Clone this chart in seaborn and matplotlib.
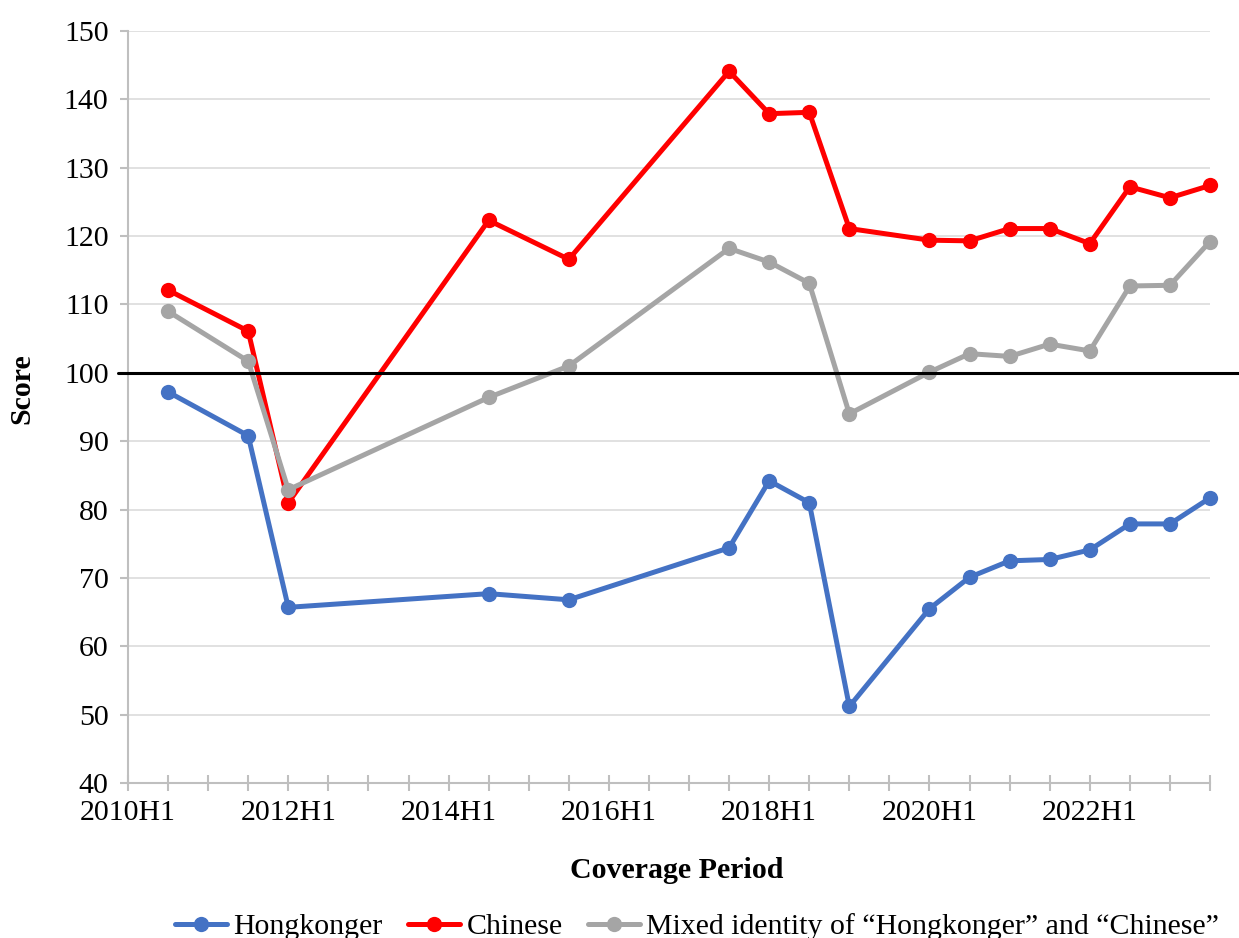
import numpy as np
import pandas as pd
import matplotlib
matplotlib.use('Agg')
import matplotlib.pyplot as plt
import seaborn as sns

# half-year periods on the x axis
periods = [f'{y}H{h}' for y in range(2010, 2024) for h in (1, 2)]
label_every = 4

obs_periods = ['2010H2', '2011H2', '2012H1', '2014H2', '2015H2', '2017H2', '2018H1',
               '2018H2', '2019H1', '2020H1', '2020H2', '2021H1', '2021H2', '2022H1',
               '2022H2', '2023H1', '2023H2']

hongkonger = [97.2, 90.8, 65.7, 67.7, 66.8, 74.4, 84.2, 81.0, 51.2, 65.5, 70.1, 72.5,
              72.7, 74.1, 77.9, 77.9, 81.7]
chinese = [112.1, 106.1, 81.0, 122.3, 116.6, 144.1, 137.9, 138.1, 121.1, 119.4, 119.3,
           121.1, 121.1, 118.9, 127.2, 125.6, 127.4]
mixed = [109.0, 101.7, 82.9, 96.4, 101.0, 118.2, 116.2, 113.1, 94.0, 100.1, 102.8,
         102.4, 104.2, 103.2, 112.7, 112.8, 119.2]

series_names = ['Hongkonger', 'Chinese',
                'Mixed identity of \u201cHongkonger\u201d and \u201cChinese\u201d']
colors = ['#4472C4', '#FF0000', '#A5A5A5']
baseline = 100

pos = [periods.index(p) for p in obs_periods]
df = pd.concat([
    pd.DataFrame({'pos': pos, 'score': vals, 'series': name})
    for name, vals in zip(series_names, [hongkonger, chinese, mixed])
])

sns.set_theme(style='white')
plt.rcParams['font.family'] = ['Liberation Serif', 'DejaVu Serif']
plt.rcParams['text.color'] = 'black'
plt.rcParams['axes.labelcolor'] = 'black'
plt.rcParams['xtick.labelcolor'] = 'black'
plt.rcParams['ytick.labelcolor'] = 'black'

fig = plt.figure(figsize=(12.39, 9.38), dpi=100)
ax = fig.add_axes([0.1033, 0.1652, 0.8733, 0.8018])

ax.yaxis.grid(True, color='#D9D9D9', linewidth=1.1, zorder=0)
ax.set_axisbelow(True)

sns.lineplot(data=df, x='pos', y='score', hue='series', hue_order=series_names,
             palette=dict(zip(series_names, colors)), marker='o', markersize=11,
             markeredgewidth=0, linewidth=3.6, ax=ax, zorder=3, clip_on=False)

# reference line at 100 sits on top of the series
ax.axhline(baseline, xmin=-0.009, xmax=1.03, color='black', linewidth=2.2,
           clip_on=False, zorder=5)

ax.set_xlim(0, len(periods) - 1)
ax.set_ylim(40, 150)
ax.set_yticks(range(40, 151, 10))
ax.set_xticks(range(len(periods)))
ax.set_xticklabels([p if i % label_every == 0 else '' for i, p in enumerate(periods)])

for side in ['top', 'right']:
    ax.spines[side].set_visible(False)
for side in ['left', 'bottom']:
    ax.spines[side].set_color('#BFBFBF')
    ax.spines[side].set_linewidth(1.5)

ax.tick_params(axis='y', direction='out', length=6, width=1.5, color='#BFBFBF',
               labelsize=21.5, pad=8, left=True)
ax.tick_params(axis='x', direction='inout', length=12, width=1.5, color='#BFBFBF',
               labelsize=21.5, pad=6, bottom=True)

ax.set_xlabel('Coverage Period', fontsize=21.5, fontweight='bold')
ax.xaxis.set_label_coords(0.507, -0.1157)
ax.xaxis.label.set_va('center')
ax.set_ylabel('Score', fontsize=21.5, fontweight='bold')
ax.yaxis.set_label_coords(-0.098, 0.525)
ax.yaxis.label.set_va('center')

sns.move_legend(ax, 'center', bbox_to_anchor=(0.5626, 0.012),
                bbox_transform=fig.transFigure, ncol=3, frameon=False, title=None,
                fontsize=21.5, handlelength=1.75, handletextpad=0.2, columnspacing=0.85)

fig.savefig('out.png', dpi=100)
